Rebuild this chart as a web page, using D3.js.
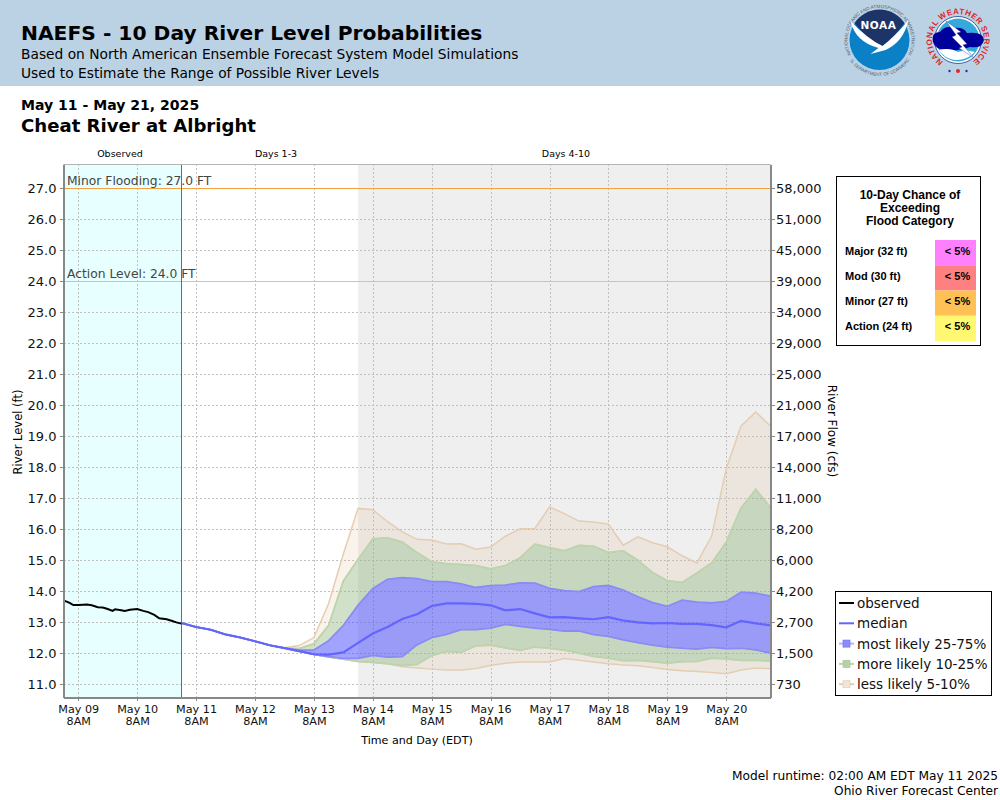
<!DOCTYPE html>
<html>
  <head>
    <title>NAEFS - 10 Day River Level Probabilities</title>
    <meta charset="UTF-8">
    <script src="https://d3js.org/d3.v7.min.js"></script>
    <style type="text/css">
      body { margin: 0px; padding: 0px; background: #fff; }
      svg { display: block; font-family: "DejaVu Sans", sans-serif; }
      .grid line { stroke: #c0c0c0; stroke-dasharray: 2,2; shape-rendering: crispEdges; }
      .axis path, .axis line { stroke: #888; shape-rendering: crispEdges; }
      .axis path { stroke-width: 2px; }
      .axis text { font-family: "DejaVu Sans", sans-serif; fill: #111; }
      .tbl { font-family: "Liberation Sans", Arial, sans-serif; font-weight: bold; fill: #000; }
    </style>
  </head>
  <body>
    <div id="chart"></div>
    <script>
      // river level axis, with the flow that goes with each level
      const stages = [27, 26, 25, 24, 23, 22, 21, 20, 19, 18, 17, 16, 15, 14, 13, 12, 11];
      const flows = ["58,000", "51,000", "45,000", "39,000", "34,000", "29,000", "25,000", "21,000", "17,000",
        "14,000", "11,000", "8,200", "6,000", "4,200", "2,700", "1,500", "730"];
      const dayLabels = ["May 09", "May 10", "May 11", "May 12", "May 13", "May 14", "May 15", "May 16", "May 17", "May 18", "May 19", "May 20"];

      // observed: hours after May 09 2AM, level in ft
      const obsHours = [0, 2.5, 4, 6, 8, 9.5, 11.5, 14, 16, 18, 20, 21, 23.5, 25, 27, 30, 32.5, 34.5, 37, 39, 42, 44, 46, 48];
      const obsLevel = [13.70, 13.62, 13.55, 13.55, 13.56, 13.57, 13.54, 13.48, 13.47, 13.42, 13.36, 13.41, 13.38, 13.36, 13.40, 13.42, 13.36, 13.32, 13.23, 13.12, 13.09, 13.04, 12.99, 12.95];

      // forecast, one value per 6 hours from May 11 2AM
      const median = [12.97, 12.84, 12.75, 12.60, 12.50, 12.38, 12.25, 12.16, 12.06, 11.96, 11.95, 12.02, 12.33, 12.63, 12.84, 13.10, 13.25, 13.52, 13.60, 13.60, 13.59, 13.54, 13.38, 13.42, 13.28, 13.15, 13.16, 13.12, 13.09, 13.16, 13.05, 12.99, 12.96, 12.97, 12.94, 12.94, 12.90, 12.83, 13.04, 12.96, 12.89];
      const p75 = [12.97, 12.84, 12.75, 12.60, 12.50, 12.38, 12.25, 12.16, 12.10, 12.10, 12.40, 12.90, 13.55, 14.09, 14.38, 14.44, 14.41, 14.31, 14.31, 14.24, 14.12, 14.18, 14.20, 14.27, 14.26, 14.09, 14.02, 13.99, 14.15, 14.19, 14.04, 13.82, 13.63, 13.51, 13.71, 13.65, 13.62, 13.67, 13.97, 13.94, 13.84];
      const p90 = [12.97, 12.84, 12.75, 12.60, 12.50, 12.38, 12.25, 12.16, 12.15, 12.30, 12.90, 14.33, 15.03, 15.69, 15.72, 15.59, 15.25, 14.95, 14.89, 14.86, 14.83, 14.72, 14.83, 15.08, 15.52, 15.41, 15.30, 15.48, 15.45, 15.25, 15.30, 15.00, 14.60, 14.34, 14.28, 14.59, 14.91, 15.59, 16.69, 17.29, 16.70];
      const p95 = [12.97, 12.84, 12.75, 12.60, 12.50, 12.38, 12.25, 12.17, 12.24, 12.50, 13.60, 15.20, 16.67, 16.63, 16.24, 15.91, 15.67, 15.65, 15.52, 15.53, 15.35, 15.42, 15.77, 16.01, 16.02, 16.72, 16.50, 16.26, 16.23, 16.16, 15.48, 15.75, 15.56, 15.43, 15.14, 14.91, 15.77, 17.96, 19.33, 19.78, 19.33];
      const p25 = [12.97, 12.84, 12.75, 12.60, 12.50, 12.38, 12.25, 12.16, 12.06, 11.95, 11.88, 11.82, 11.82, 11.92, 11.86, 11.88, 12.26, 12.49, 12.60, 12.75, 12.75, 12.80, 12.92, 12.86, 12.80, 12.76, 12.70, 12.71, 12.59, 12.53, 12.42, 12.33, 12.25, 12.19, 12.15, 12.12, 12.18, 12.14, 12.15, 12.10, 11.99];
      const p10 = [12.97, 12.84, 12.75, 12.60, 12.50, 12.38, 12.25, 12.16, 12.06, 11.95, 11.87, 11.80, 11.73, 11.69, 11.65, 11.59, 11.63, 11.91, 12.05, 12.02, 12.23, 12.25, 12.16, 12.08, 12.19, 12.15, 12.09, 11.99, 11.89, 11.83, 11.75, 11.76, 11.72, 11.67, 11.72, 11.73, 11.83, 11.81, 11.76, 11.76, 11.74];
      const p05 = [12.97, 12.84, 12.75, 12.60, 12.50, 12.38, 12.25, 12.16, 12.06, 11.95, 11.87, 11.80, 11.73, 11.69, 11.65, 11.56, 11.52, 11.48, 11.45, 11.45, 11.50, 11.60, 11.67, 11.71, 11.71, 11.71, 11.82, 11.77, 11.71, 11.65, 11.61, 11.59, 11.53, 11.47, 11.43, 11.40, 11.37, 11.33, 11.45, 11.52, 11.49];

      const floodRows = ["Major (32 ft)", "Mod (30 ft)", "Minor (27 ft)", "Action (24 ft)"];
      const floodChance = ["< 5%", "< 5%", "< 5%", "< 5%"];
      const floodColors = ["#ff80ff", "#ff8080", "#ffc055", "#fff870"];

      const legendNames = ["observed", "median", "most likely 25-75%", "more likely 10-25%", "less likely 5-10%"];

      const svg = d3.select("#chart").append("svg").attr("width", 1000).attr("height", 800);

      // header
      svg.append("rect").attr("width", 1000).attr("height", 86).attr("fill", "#bbd2e5");
      const addText = (x, y, txt, size, weight, anchor) => svg.append("text")
        .attr("x", x).attr("y", y).attr("font-size", size).attr("font-weight", weight || "normal")
        .attr("text-anchor", anchor || "start").attr("fill", "#000").text(txt);
      addText(21, 40, "NAEFS - 10 Day River Level Probabilities", 20.25, "bold");
      addText(21, 59, "Based on North American Ensemble Forecast System Model Simulations", 13.77);
      addText(21, 78, "Used to Estimate the Range of Possible River Levels", 13.77);
      addText(21, 110, "May 11 - May 21, 2025", 14.05, "bold");
      addText(21, 132, "Cheat River at Albright", 18.1, "bold");
      addText(120, 157, "Observed", 9.5, "normal", "middle");
      addText(276, 157, "Days 1-3", 9.5, "normal", "middle");
      addText(566, 157, "Days 4-10", 9.5, "normal", "middle");
      addText(998, 780, "Model runtime: 02:00 AM EDT May 11 2025", 12.2, "normal", "end");
      addText(998, 795, "Ohio River Forecast Center", 12.2, "normal", "end");
      addText(417, 744, "Time and Day (EDT)", 11.1, "normal", "middle");
      svg.append("text").attr("transform", "translate(22,432) rotate(-90)").attr("text-anchor", "middle")
        .attr("font-size", 11.5).text("River Level (ft)");
      svg.append("text").attr("transform", "translate(828,431) rotate(90)").attr("text-anchor", "middle")
        .attr("font-size", 12).text("River Flow (cfs)");

      // scales
      const hour = 3600000;
      const t0 = Date.UTC(2025, 4, 9, 2);
      const fcStart = t0 + 48 * hour;
      const x = d3.scaleUtc().domain([new Date(t0), new Date(t0 + 288 * hour)]).range([63.5, 770.5]);
      const y = d3.scaleLinear().domain([10.58, 27.79]).range([697, 164]);
      const plotBottom = y.range()[0], plotTop = y.range()[1];
      const tickTimes = dayLabels.map((d, i) => new Date(t0 + (6 + 24 * i) * hour));
      const fcTimes = median.map((d, i) => new Date(fcStart + 6 * i * hour));

      // shaded periods
      svg.append("rect").attr("x", x.range()[0]).attr("y", plotTop).attr("height", plotBottom - plotTop)
        .attr("width", x(new Date(fcStart)) - x.range()[0]).attr("fill", "#e8ffff");
      svg.append("rect").attr("x", x(new Date(fcStart + 72 * hour))).attr("y", plotTop).attr("height", plotBottom - plotTop)
        .attr("width", x.range()[1] - x(new Date(fcStart + 72 * hour))).attr("fill", "#efefef");

      // grid
      svg.append("g").attr("class", "grid").selectAll("line").data(stages).enter().append("line")
        .attr("x1", x.range()[0]).attr("x2", x.range()[1])
        .attr("y1", d => Math.round(y(d)) + 0.5).attr("y2", d => Math.round(y(d)) + 0.5);
      svg.append("g").attr("class", "grid").selectAll("line").data(tickTimes).enter().append("line")
        .attr("y1", plotTop).attr("y2", plotBottom)
        .attr("x1", d => Math.round(x(d)) + 0.5).attr("x2", d => Math.round(x(d)) + 0.5);

      // bands, each one only between its own two edges
      const bandStyles = [
        { lo: p05, hi: p10, fill: "rgb(222,184,135)", op: 0.17, line: "#e5cdb2" },
        { lo: p90, hi: p95, fill: "rgb(222,184,135)", op: 0.17, line: "#e5cdb2" },
        { lo: p10, hi: p25, fill: "rgb(141,177,121)", op: 0.4, line: "#b9d6ac" },
        { lo: p75, hi: p90, fill: "rgb(141,177,121)", op: 0.4, line: "#b9d6ac" },
        { lo: p25, hi: p75, fill: "rgb(70,70,255)", op: 0.5, line: "#8a8afa" }
      ];
      bandStyles.forEach(b => {
        const area = d3.area().x((d, i) => x(fcTimes[i])).y0((d, i) => y(b.lo[i])).y1((d, i) => y(b.hi[i]));
        svg.append("path").datum(median).attr("d", area).attr("fill", b.fill).attr("fill-opacity", b.op);
        const edge = d3.line().x((d, i) => x(fcTimes[i])).y(d => y(d));
        [b.lo, b.hi].forEach(s => svg.append("path").datum(s).attr("d", edge)
          .attr("fill", "none").attr("stroke", b.line).attr("stroke-width", 1.5));
      });

      // flood lines
      const levelLines = [
        { v: 27, color: "#f5a040", label: "Minor Flooding: 27.0 FT" },
        { v: 24, color: "#f0c840", label: "Action Level: 24.0 FT" }
      ];
      levelLines.forEach(l => {
        svg.append("line").attr("x1", x.range()[0]).attr("x2", x.range()[1])
          .attr("y1", Math.round(y(l.v)) + 0.5).attr("y2", Math.round(y(l.v)) + 0.5)
          .attr("stroke", l.color).attr("stroke-width", 1);
        svg.append("text").attr("x", 67).attr("y", y(l.v) - 3).attr("font-size", 12.3).attr("fill", "#444").text(l.label);
      });

      // median and observed
      const fcLine = d3.line().x((d, i) => x(fcTimes[i])).y(d => y(d));
      svg.append("path").datum(median).attr("d", fcLine).attr("fill", "none").attr("stroke", "#6464ff").attr("stroke-width", 2.2);
      const nowX = Math.floor(x(new Date(fcStart))) + 0.5;
      svg.append("line").attr("x1", nowX).attr("x2", nowX)
        .attr("y1", plotTop).attr("y2", plotBottom).attr("stroke", "#dc3c3c").attr("stroke-width", 1);
      const obsLine = d3.line().x((d, i) => x(new Date(t0 + obsHours[i] * hour))).y(d => y(d));
      svg.append("path").datum(obsLevel).attr("d", obsLine).attr("fill", "none").attr("stroke", "#000").attr("stroke-width", 2);

      // axes
      svg.append("line").attr("x1", x.range()[0]).attr("x2", x.range()[1]).attr("y1", plotTop + 0.5).attr("y2", plotTop + 0.5)
        .attr("stroke", "#b4b4b4").attr("stroke-width", 1);
      const axisLeft = d3.axisLeft(y).tickValues(stages).tickSize(4).tickSizeOuter(0).tickFormat(d3.format(".1f"));
      svg.append("g").attr("class", "axis").attr("transform", `translate(${x.range()[0]},0)`).call(axisLeft)
        .selectAll("text").attr("font-size", 13);
      const axisRight = d3.axisRight(y).tickValues(stages).tickSize(4).tickSizeOuter(0).tickFormat((d, i) => flows[i]);
      svg.append("g").attr("class", "axis").attr("transform", `translate(${x.range()[1]},0)`).call(axisRight)
        .selectAll("text").attr("font-size", 13).attr("x", 5.5);
      const axisBottom = d3.axisBottom(x).tickValues(tickTimes).tickSize(4).tickSizeOuter(0).tickFormat("");
      const gx = svg.append("g").attr("class", "axis").attr("transform", `translate(0,${plotBottom})`).call(axisBottom);
      gx.selectAll(".tick text").remove();
      gx.selectAll(".tick").append("text").attr("text-anchor", "middle").attr("font-size", 11.2).attr("y", 16)
        .text((d, i) => dayLabels[i]);
      gx.selectAll(".tick").append("text").attr("text-anchor", "middle").attr("font-size", 11.2).attr("y", 28)
        .text("8AM");

      // flood chance table
      svg.append("rect").attr("x", 836.5).attr("y", 176.5).attr("width", 144).attr("height", 169)
        .attr("fill", "#fff").attr("stroke", "#000");
      ["10-Day Chance of", "Exceeding", "Flood Category"].forEach((t, i) => {
        svg.append("text").attr("class", "tbl").attr("x", 910).attr("y", 199 + 13 * i)
          .attr("text-anchor", "middle").attr("font-size", 12).text(t);
      });
      const rowBand = d3.scaleBand().domain(floodRows).range([240, 341]);
      floodRows.forEach((r, i) => {
        const ry = rowBand(r);
        svg.append("rect").attr("x", 935).attr("y", ry).attr("width", 41).attr("height", rowBand.bandwidth()).attr("fill", floodColors[i]);
        svg.append("text").attr("class", "tbl").attr("x", 845).attr("y", ry + 15 - i * 0.25).attr("font-size", 11).text(r);
        svg.append("text").attr("class", "tbl").attr("x", 957.5).attr("y", ry + 15 - i * 0.25).attr("text-anchor", "middle").attr("font-size", 11).text(floodChance[i]);
      });

      // legend
      svg.append("rect").attr("x", 835.5).attr("y", 591.5).attr("width", 156).attr("height", 104)
        .attr("fill", "#fff").attr("stroke", "#000");
      const legendStyles = [
        { line: "#000", w: 2 }, { line: "#6464ff", w: 2 },
        { line: "#b4b4ff", w: 2, box: "#8c8cfa", edge: "#7070f0" },
        { line: "#b9d6ac", w: 2, box: "#b5d3a8", edge: "#a6c899" },
        { line: "#e5cdb2", w: 2, box: "#efe5d8", edge: "#e5cdb2" }
      ];
      legendNames.forEach((n, i) => {
        const ly = 603 + 20.3 * i, s = legendStyles[i];
        svg.append("line").attr("x1", 839).attr("x2", 854).attr("y1", ly).attr("y2", ly)
          .attr("stroke", s.line).attr("stroke-width", s.w);
        if (s.box) svg.append("rect").attr("x", 843).attr("y", ly - 3.5).attr("width", 7).attr("height", 7)
          .attr("fill", s.box).attr("stroke", s.edge).attr("stroke-width", 0.7);
        svg.append("text").attr("x", 857).attr("y", ly + 5).attr("font-size", 13.5).attr("fill", "#111").text(n);
      });

      // logos
      const defs = svg.append("defs");
      // arc around 0,0 from angle a to angle b, degrees clockwise from the top
      const ringPath = (id, r, a, b) => {
        const pt = d => [r * Math.sin(d * Math.PI / 180), -r * Math.cos(d * Math.PI / 180)];
        const p0 = pt(a), p1 = pt(b);
        const large = Math.abs(b - a) > 180 ? 1 : 0;
        defs.append("path").attr("id", id)
          .attr("d", `M${p0[0]},${p0[1]} A${r},${r} 0 ${large} ${b > a ? 1 : 0} ${p1[0]},${p1[1]}`);
      };
      const ringText = (id, cx, cy, txt, size, color, weight, spacing) => svg.append("text")
        .attr("transform", `translate(${cx},${cy})`)
        .attr("font-size", size).attr("fill", color).attr("font-family", "Liberation Sans").attr("font-weight", weight)
        .attr("letter-spacing", spacing || 0)
        .append("textPath").attr("href", "#" + id).attr("startOffset", "50%").attr("text-anchor", "middle").text(txt);

      const nx = 879.5, ny = 40;
      ringPath("noaaTop", 32, -125, 125);
      ringPath("noaaBot", 36, 235, 125);
      ringText("noaaTop", nx, ny, "NATIONAL OCEANIC AND ATMOSPHERIC ADMINISTRATION", 4.6, "#56606c", "normal");
      ringText("noaaBot", nx, ny, "U.S. DEPARTMENT OF COMMERCE", 4.6, "#56606c", "normal");
      svg.append("circle").attr("cx", nx).attr("cy", ny).attr("r", 30).attr("fill", "#0a80c6");
      svg.append("path").attr("fill", "#1c3468")
        .attr("d", `M${nx - 25},${ny - 17} A30,30 0 0 1 ${nx + 25},${ny - 17} Q${nx + 14},${ny - 2} ${nx + 3},${ny + 6} Q${nx - 12},${ny} ${nx - 25},${ny - 17} Z`);
      svg.append("path").attr("fill", "#fff")
        .attr("d", `M${nx - 29},${ny - 19} Q${nx - 12},${ny - 1} ${nx + 3},${ny + 6} Q${nx + 16},${ny - 4} ${nx + 29},${ny - 20} Q${nx + 24},${ny + 2} ${nx + 6},${ny + 10} L${nx - 9},${ny + 14} L${nx - 1},${ny + 8} Q${nx - 24},${ny + 2} ${nx - 29},${ny - 19} Z`);
      svg.append("text").attr("x", nx - 1).attr("y", ny - 11).attr("text-anchor", "middle").attr("font-size", 10.5)
        .attr("font-weight", "bold").attr("fill", "#fff").attr("letter-spacing", 0.6).text("NOAA");

      const wx = 958, wy = 40;
      ringPath("nwsTop", 26, -150, 150);
      ringText("nwsTop", wx, wy, "NATIONAL WEATHER SERVICE", 8, "#e0262a", "bold", 0.5);
      svg.append("circle").attr("cx", wx).attr("cy", wy).attr("r", 23.5).attr("fill", "#fff").attr("stroke", "#1a3c8c").attr("stroke-width", 0.8);
      svg.append("circle").attr("cx", wx).attr("cy", wy).attr("r", 21.5).attr("fill", "#35a8dc");
      svg.append("path").attr("fill", "#00009a")
        .attr("d", `M${wx - 25},${wy + 2} Q${wx - 27},${wy - 8} ${wx - 18},${wy - 8} Q${wx - 13},${wy - 15} ${wx - 4},${wy - 12} Q${wx + 6},${wy - 13} ${wx + 9},${wy - 7} Q${wx + 25},${wy - 9} ${wx + 26},${wy} Q${wx + 24},${wy + 9} ${wx + 12},${wy + 7} Q${wx},${wy + 12} ${wx - 10},${wy + 9} Q${wx - 22},${wy + 11} ${wx - 25},${wy + 2} Z`);
      svg.append("path").attr("fill", "#fff")
        .attr("d", `M${wx - 19},${wy + 10} Q${wx - 8},${wy + 7} ${wx},${wy + 12} Q${wx + 8},${wy + 9} ${wx + 17},${wy + 12} Q${wx + 8},${wy + 21} ${wx - 3},${wy + 20} Q${wx - 13},${wy + 19} ${wx - 19},${wy + 10} Z`);
      svg.append("path").attr("fill", "#fff").attr("stroke", "#1a3c8c").attr("stroke-width", 0.4)
        .attr("d", `M${wx - 12},${wy - 19} L${wx + 3},${wy - 8} L${wx - 1},${wy - 7} L${wx + 9},${wy + 4} L${wx + 5},${wy + 5} L${wx + 16},${wy + 18} L${wx + 1},${wy + 8} L${wx + 4},${wy + 7} L${wx - 6},${wy - 3} L${wx - 2},${wy - 5} Z`);
      [[-8.5, "#1a3c8c", 1.2], [0, "#e0262a", 2], [8.5, "#1a3c8c", 1.2]].forEach(s => {
        svg.append("circle").attr("cx", wx + s[0]).attr("cy", wy + 31).attr("r", s[2]).attr("fill", s[1]);
      });
    </script>
  </body>
</html>
